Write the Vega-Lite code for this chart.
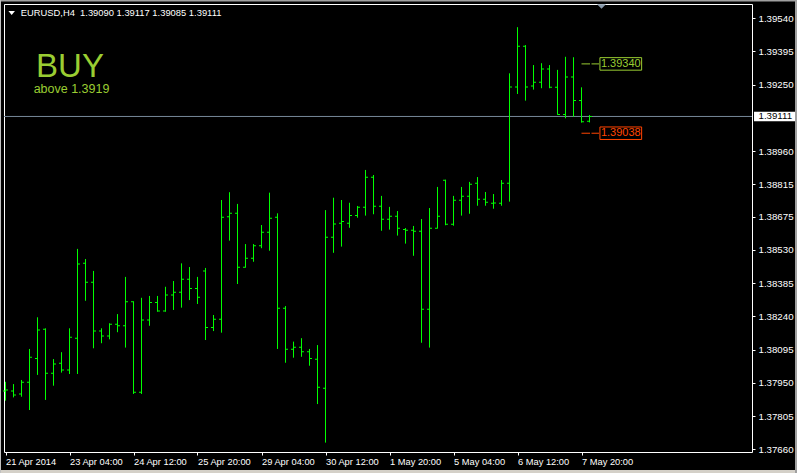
{
"$schema":"https://vega.github.io/schema/vega-lite/v6.json",
"width":748,"height":448,
"autosize":{"type":"none"},
"padding":{"left":4,"top":4,"right":45,"bottom":21},
"background":"#000000",
"config":{"view":{"stroke":"#ffffff","strokeWidth":1,"fill":"#000000"},"font":"Liberation Sans","axis":{"labelFont":"Liberation Sans","labelFontSize":9.7,"labelColor":"#ffffff","tickColor":"#ffffff","tickSize":3,"domain":false,"grid":false}},
"resolve":{"axis":{"x":"independent","y":"independent"}},
"data":{"values":[
{"i":0,"t":"2014-04-21 20:00","o":1.37915,"h":1.37955,"l":1.37873,"c":1.37919},
{"i":1,"t":"2014-04-22 00:00","o":1.37915,"h":1.37945,"l":1.37887,"c":1.37897},
{"i":2,"t":"2014-04-22 04:00","o":1.37902,"h":1.37963,"l":1.37890,"c":1.37953},
{"i":3,"t":"2014-04-22 08:00","o":1.37953,"h":1.38098,"l":1.37832,"c":1.38062},
{"i":4,"t":"2014-04-22 12:00","o":1.38057,"h":1.38236,"l":1.37985,"c":1.38181},
{"i":5,"t":"2014-04-22 16:00","o":1.38184,"h":1.38188,"l":1.37876,"c":1.37992},
{"i":6,"t":"2014-04-22 20:00","o":1.37992,"h":1.38054,"l":1.37938,"c":1.38033},
{"i":7,"t":"2014-04-23 00:00","o":1.38036,"h":1.38084,"l":1.37995,"c":1.38006},
{"i":8,"t":"2014-04-23 04:00","o":1.38006,"h":1.38188,"l":1.37989,"c":1.38149},
{"i":9,"t":"2014-04-23 08:00","o":1.38145,"h":1.38534,"l":1.37989,"c":1.38468},
{"i":10,"t":"2014-04-23 12:00","o":1.38471,"h":1.38490,"l":1.38308,"c":1.38389},
{"i":11,"t":"2014-04-23 16:00","o":1.38389,"h":1.38438,"l":1.38101,"c":1.38176},
{"i":12,"t":"2014-04-23 20:00","o":1.38176,"h":1.38188,"l":1.38123,"c":1.38155},
{"i":13,"t":"2014-04-24 00:00","o":1.38155,"h":1.38210,"l":1.38140,"c":1.38206},
{"i":14,"t":"2014-04-24 04:00","o":1.38206,"h":1.38250,"l":1.38171,"c":1.38199},
{"i":15,"t":"2014-04-24 08:00","o":1.38199,"h":1.38412,"l":1.38104,"c":1.38304},
{"i":16,"t":"2014-04-24 12:00","o":1.38304,"h":1.38306,"l":1.37902,"c":1.37909},
{"i":17,"t":"2014-04-24 16:00","o":1.37909,"h":1.38321,"l":1.37902,"c":1.38224},
{"i":18,"t":"2014-04-24 20:00","o":1.38224,"h":1.38329,"l":1.38199,"c":1.38301},
{"i":19,"t":"2014-04-25 00:00","o":1.38300,"h":1.38329,"l":1.38260,"c":1.38263},
{"i":20,"t":"2014-04-25 04:00","o":1.38263,"h":1.38369,"l":1.38260,"c":1.38333},
{"i":21,"t":"2014-04-25 08:00","o":1.38333,"h":1.38394,"l":1.38268,"c":1.38345},
{"i":22,"t":"2014-04-25 12:00","o":1.38345,"h":1.38471,"l":1.38278,"c":1.38402},
{"i":23,"t":"2014-04-25 16:00","o":1.38402,"h":1.38455,"l":1.38311,"c":1.38362},
{"i":24,"t":"2014-04-25 20:00","o":1.38362,"h":1.38412,"l":1.38294,"c":1.38323},
{"i":25,"t":"2014-04-28 00:00","o":1.38438,"h":1.38451,"l":1.38137,"c":1.38192},
{"i":26,"t":"2014-04-28 04:00","o":1.38192,"h":1.38246,"l":1.38176,"c":1.38227},
{"i":27,"t":"2014-04-28 08:00","o":1.38227,"h":1.38747,"l":1.38169,"c":1.38672},
{"i":28,"t":"2014-04-28 12:00","o":1.38674,"h":1.38781,"l":1.38570,"c":1.38689},
{"i":29,"t":"2014-04-28 16:00","o":1.38689,"h":1.38730,"l":1.38381,"c":1.38454},
{"i":30,"t":"2014-04-28 20:00","o":1.38454,"h":1.38555,"l":1.38452,"c":1.38493},
{"i":31,"t":"2014-04-29 00:00","o":1.38493,"h":1.38555,"l":1.38478,"c":1.38548},
{"i":32,"t":"2014-04-29 04:00","o":1.38548,"h":1.38638,"l":1.38537,"c":1.38606},
{"i":33,"t":"2014-04-29 08:00","o":1.38606,"h":1.38779,"l":1.38526,"c":1.38667},
{"i":34,"t":"2014-04-29 12:00","o":1.38672,"h":1.38689,"l":1.38098,"c":1.38275},
{"i":35,"t":"2014-04-29 16:00","o":1.38275,"h":1.38285,"l":1.38038,"c":1.38097},
{"i":36,"t":"2014-04-29 20:00","o":1.38097,"h":1.38130,"l":1.38060,"c":1.38105},
{"i":37,"t":"2014-04-30 00:00","o":1.38105,"h":1.38145,"l":1.38064,"c":1.38086},
{"i":38,"t":"2014-04-30 04:00","o":1.38086,"h":1.38098,"l":1.38025,"c":1.38057},
{"i":39,"t":"2014-04-30 08:00","o":1.38053,"h":1.38115,"l":1.37858,"c":1.37931},
{"i":40,"t":"2014-04-30 12:00","o":1.37927,"h":1.38703,"l":1.37690,"c":1.38585},
{"i":41,"t":"2014-04-30 16:00","o":1.38585,"h":1.38757,"l":1.38517,"c":1.38643},
{"i":42,"t":"2014-04-30 20:00","o":1.38646,"h":1.38747,"l":1.38544,"c":1.38653},
{"i":43,"t":"2014-05-01 00:00","o":1.38646,"h":1.38735,"l":1.38626,"c":1.38680},
{"i":44,"t":"2014-05-01 04:00","o":1.38680,"h":1.38721,"l":1.38670,"c":1.38715},
{"i":45,"t":"2014-05-01 08:00","o":1.38715,"h":1.38878,"l":1.38679,"c":1.38846},
{"i":46,"t":"2014-05-01 12:00","o":1.38846,"h":1.38856,"l":1.38685,"c":1.38720},
{"i":47,"t":"2014-05-01 16:00","o":1.38720,"h":1.38765,"l":1.38613,"c":1.38663},
{"i":48,"t":"2014-05-01 20:00","o":1.38663,"h":1.38717,"l":1.38618,"c":1.38676},
{"i":49,"t":"2014-05-02 00:00","o":1.38676,"h":1.38699,"l":1.38592,"c":1.38624},
{"i":50,"t":"2014-05-02 04:00","o":1.38619,"h":1.38625,"l":1.38557,"c":1.38615},
{"i":51,"t":"2014-05-02 08:00","o":1.38615,"h":1.38634,"l":1.38504,"c":1.38611},
{"i":52,"t":"2014-05-02 12:00","o":1.38611,"h":1.38664,"l":1.38125,"c":1.38271},
{"i":53,"t":"2014-05-02 16:00","o":1.38271,"h":1.38712,"l":1.38104,"c":1.38624},
{"i":54,"t":"2014-05-02 20:00","o":1.38624,"h":1.38804,"l":1.38622,"c":1.38676},
{"i":55,"t":"2014-05-05 00:00","o":1.38833,"h":1.38836,"l":1.38637,"c":1.38641},
{"i":56,"t":"2014-05-05 04:00","o":1.38641,"h":1.38765,"l":1.38635,"c":1.38746},
{"i":57,"t":"2014-05-05 08:00","o":1.38746,"h":1.38804,"l":1.38679,"c":1.38763},
{"i":58,"t":"2014-05-05 12:00","o":1.38763,"h":1.38826,"l":1.38687,"c":1.38816},
{"i":59,"t":"2014-05-05 16:00","o":1.38820,"h":1.38847,"l":1.38722,"c":1.38750},
{"i":60,"t":"2014-05-05 20:00","o":1.38750,"h":1.38782,"l":1.38722,"c":1.38737},
{"i":61,"t":"2014-05-06 00:00","o":1.38733,"h":1.38773,"l":1.38709,"c":1.38734},
{"i":62,"t":"2014-05-06 04:00","o":1.38733,"h":1.38834,"l":1.38722,"c":1.38820},
{"i":63,"t":"2014-05-06 08:00","o":1.38820,"h":1.39299,"l":1.38740,"c":1.39239},
{"i":64,"t":"2014-05-06 12:00","o":1.39239,"h":1.39500,"l":1.39209,"c":1.39417},
{"i":65,"t":"2014-05-06 16:00","o":1.39417,"h":1.39422,"l":1.39180,"c":1.39239},
{"i":66,"t":"2014-05-06 20:00","o":1.39244,"h":1.39335,"l":1.39228,"c":1.39260},
{"i":67,"t":"2014-05-07 00:00","o":1.39260,"h":1.39343,"l":1.39234,"c":1.39318},
{"i":68,"t":"2014-05-07 04:00","o":1.39318,"h":1.39335,"l":1.39234,"c":1.39238},
{"i":69,"t":"2014-05-07 08:00","o":1.39238,"h":1.39314,"l":1.39118,"c":1.39120},
{"i":70,"t":"2014-05-07 12:00","o":1.39120,"h":1.39371,"l":1.39103,"c":1.39283},
{"i":71,"t":"2014-05-07 16:00","o":1.39283,"h":1.39369,"l":1.39110,"c":1.39181},
{"i":72,"t":"2014-05-07 20:00","o":1.39181,"h":1.39238,"l":1.39084,"c":1.39088},
{"i":73,"t":"2014-05-08 00:00","o":1.39090,"h":1.39117,"l":1.39085,"c":1.39111}
]},
"layer":[
{"data":{"values":[{"price":1.39111}]},
 "mark":{"type":"rule","color":"#778899","strokeWidth":1},
 "encoding":{"y":{"field":"price","type":"quantitative","axis":null}}},
{"mark":{"type":"rule","stroke":"#00ff00","strokeWidth":1},
 "encoding":{
  "x":{"field":"i","type":"quantitative","scale":{"domain":[-0.1875,93.3125],"nice":false,"zero":false},
       "axis":{"orient":"bottom","values":[0,8,16,24,32,40,48,56,64,72],"labelExpr":"['21 Apr 2014','23 Apr 04:00','24 Apr 12:00','25 Apr 20:00','29 Apr 04:00','30 Apr 12:00','1 May 20:00','5 May 04:00','6 May 12:00','7 May 20:00'][round(datum.value/8)]","labelFontSize":9.3,"labelAlign":"left","labelBaseline":"top","labelPadding":2,"labelFlush":false,"labelOverlap":false,"title":null}},
  "y":{"field":"h","type":"quantitative","scale":{"domain":[1.376491,1.39601],"nice":false,"zero":false},
       "axis":{"orient":"right","values":[1.3766,1.37805,1.3795,1.38095,1.3824,1.38385,1.3853,1.38675,1.38815,1.3896,1.3925,1.39395,1.3954],"format":".5f","labelAlign":"left","labelBaseline":"middle","labelPadding":3,"labelFlush":false,"labelOverlap":false,"title":null}},
  "y2":{"field":"l"}}},
{"mark":{"type":"tick","orient":"horizontal","color":"#00ff00","size":2,"thickness":1,"xOffset":-1.5,"opacity":1},
 "encoding":{"x":{"field":"i","type":"quantitative","axis":null},"y":{"field":"o","type":"quantitative","axis":null}}},
{"mark":{"type":"tick","orient":"horizontal","color":"#00ff00","size":2,"thickness":1,"xOffset":1.5,"opacity":1},
 "encoding":{"x":{"field":"i","type":"quantitative","axis":null},"y":{"field":"c","type":"quantitative","axis":null}}},
{"data":{"name":"levels","values":[{"level":"TP","price":1.3934,"label":"1.39340"},{"level":"SL","price":1.39038,"label":"1.39038"}]},
 "layer":[
  {"mark":{"type":"rule","strokeWidth":1,"strokeDash":[8.5,1.5]},
   "encoding":{"x":{"datum":72,"type":"quantitative","axis":null},"x2":{"datum":74.2},"y":{"field":"price","type":"quantitative","axis":null},
     "stroke":{"field":"level","type":"nominal","scale":{"domain":["TP","SL"],"range":["#9acd32","#ff4500"]},"legend":null}}},
  {"mark":{"type":"point","shape":"M-1,-0.3H1V0.3H-1Z","size":1740,"fill":"#000000","filled":true,"opacity":1,"strokeWidth":1},
   "encoding":{"x":{"datum":76.91,"type":"quantitative","axis":null},"y":{"field":"price","type":"quantitative","axis":null},
     "stroke":{"field":"level","type":"nominal","legend":null}}},
  {"mark":{"type":"text","fontSize":11,"align":"center","baseline":"middle","font":"Liberation Sans"},
   "encoding":{"x":{"datum":76.91,"type":"quantitative","axis":null},"y":{"field":"price","type":"quantitative","axis":null},
     "text":{"field":"label"},
     "color":{"field":"level","type":"nominal","scale":{"domain":["TP","SL"],"range":["#9acd32","#ff4500"]},"legend":null}}}
 ]},
{"data":{"values":[{}]},
 "mark":{"type":"text","text":"BUY","fontSize":33,"align":"center","baseline":"alphabetic","color":"#9acd32","font":"Liberation Sans"},
 "encoding":{"x":{"datum":8.06,"type":"quantitative","axis":null},"y":{"datum":1.39282,"type":"quantitative","axis":null}}},
{"data":{"values":[{}]},
 "mark":{"type":"text","text":"above 1.3919","fontSize":12.5,"align":"center","baseline":"alphabetic","color":"#9acd32","font":"Liberation Sans"},
 "encoding":{"x":{"datum":8.25,"type":"quantitative","axis":null},"y":{"datum":1.39212,"type":"quantitative","axis":null}}},
{"data":{"values":[{}]},
 "mark":{"type":"point","shape":"M-1,-0.5L1,-0.5L0,0.5Z","size":81,"filled":true,"color":"#8899aa","opacity":1,"strokeWidth":0},
 "encoding":{"x":{"datum":74.5,"type":"quantitative","axis":null},"y":{"datum":1.3959,"type":"quantitative","axis":null}}},
{"data":{"values":[{}]},
 "mark":{"type":"point","shape":"M-1,-0.6L1,-0.6L0,0.6Z","size":42,"filled":true,"color":"#ffffff","opacity":1,"strokeWidth":0},
 "encoding":{"x":{"datum":0.775,"type":"quantitative","axis":null},"y":{"datum":1.39562,"type":"quantitative","axis":null}}},
{"data":{"values":[{}]},
 "mark":{"type":"text","text":"EURUSD,H4\u00a0\u00a01.39090 1.39117 1.39085 1.39111","fontSize":9.4,"align":"left","baseline":"alphabetic","color":"#ffffff","font":"Liberation Sans"},
 "encoding":{"x":{"datum":1.9,"type":"quantitative","axis":null},"y":{"datum":1.39549,"type":"quantitative","axis":null}}},
{"data":{"values":[{"price":1.39111,"label":"1.39111"}]},
 "layer":[
  {"mark":{"type":"point","shape":"M-1,-0.23H1V0.23H-1Z","size":1764,"filled":true,"color":"#ffffff","opacity":1,"strokeWidth":0},
   "encoding":{"x":{"datum":96.19,"type":"quantitative","axis":null},"y":{"field":"price","type":"quantitative","axis":null}}},
  {"mark":{"type":"text","fontSize":9.7,"align":"left","baseline":"middle","color":"#000000","font":"Liberation Sans"},
   "encoding":{"x":{"datum":94.125,"type":"quantitative","axis":null},"y":{"field":"price","type":"quantitative","axis":null},"text":{"field":"label"}}}
 ]},
{"data":{"values":[{}]},
 "layer":[
  {"mark":{"type":"rule","color":"#a0a0a0","strokeWidth":1.5},
   "encoding":{"x":{"datum":-0.6875,"type":"quantitative","axis":null},"x2":{"datum":98.9375},"y":{"datum":1.39615,"type":"quantitative","axis":null}}},
  {"mark":{"type":"rule","color":"#d4d0c8","strokeWidth":3},
   "encoding":{"x":{"datum":-0.6875,"type":"quantitative","axis":null},"x2":{"datum":98.9375},"y":{"datum":1.37564,"type":"quantitative","axis":null}}},
  {"mark":{"type":"rule","color":"#a0a0a0","strokeWidth":2},
   "encoding":{"x":{"datum":98.8125,"type":"quantitative","axis":null},"y":{"datum":1.39618,"type":"quantitative","axis":null},"y2":{"datum":1.37558}}},
  {"mark":{"type":"rule","color":"#c0c0c0","strokeWidth":1},
   "encoding":{"x":{"datum":-0.625,"type":"quantitative","axis":null},"y":{"datum":1.39618,"type":"quantitative","axis":null},"y2":{"datum":1.37558}}}
 ]}
]
}
